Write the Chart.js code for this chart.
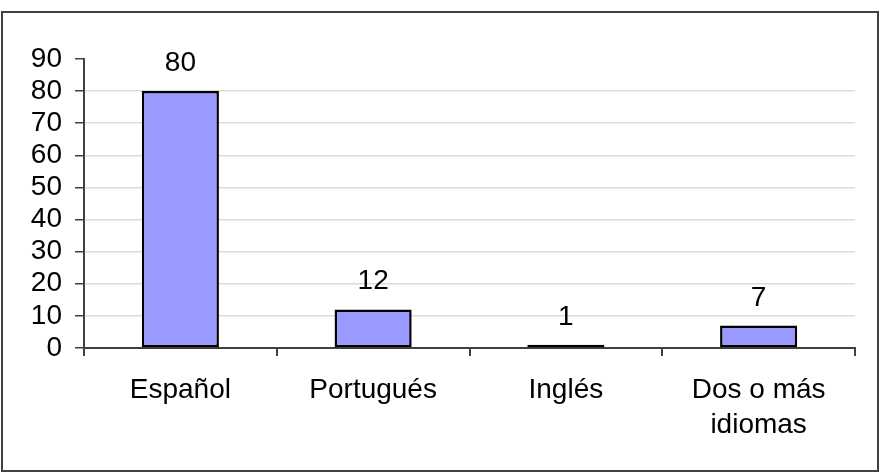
<!DOCTYPE html>
<html>
<head>
<meta charset="utf-8">
<script src="https://cdn.jsdelivr.net/npm/chart.js@4/dist/chart.umd.min.js"></script>
<style>
body{margin:0;background:#fff;}
canvas{display:block;}
</style>
</head>
<body>
<canvas id="idiomaChart" width="886" height="473"></canvas>
<script>
const categorias = ["Español","Portugués","Inglés",["Dos o más","idiomas"]];
const valores = [80,12,1,7];
const yTicks = [0,10,20,30,40,50,60,70,80,90];

const fuente = "'Liberation Sans', Arial, sans-serif";

// -----------------------------
// PLUGINS
// -----------------------------

const marco = {
id:"marco",
afterDraw(chart){
const c = chart.ctx;
c.save();
c.strokeStyle = "#404040";
c.lineWidth = 2;
c.strokeRect(2,12,876,459);
c.restore();
}
};

const etiquetas = {
id:"etiquetas",
afterDatasetsDraw(chart){
const c = chart.ctx;
const meta = chart.getDatasetMeta(0);
c.save();
c.font = "28px " + fuente;
c.fillStyle = "#000";
c.textAlign = "center";
c.textBaseline = "alphabetic";
meta.data.forEach((bar,i)=>{
c.fillText(String(valores[i]), bar.x, bar.y - 20);
});
c.restore();
}
};

// -----------------------------
// GRAPH
// -----------------------------

new Chart(document.getElementById("idiomaChart"),{
type:"bar",
data:{
labels:categorias,
datasets:[{
data:valores,
backgroundColor:"#9999FF",
borderColor:"#000",
borderWidth:2.5,
borderSkipped:false,
barPercentage:0.4,
categoryPercentage:1
}]
},
options:{
responsive:false,
animation:false,
layout:{padding:{left:0,top:59,right:31,bottom:0}},
plugins:{legend:{display:false},tooltip:{enabled:false}},
scales:{
x:{
grid:{drawOnChartArea:false,tickLength:8,tickColor:"#404040",offset:true,lineWidth:2},
border:{color:"#404040",width:2},
ticks:{color:"#000",font:{family:fuente,size:28,lineHeight:1.25},padding:17,maxRotation:0,autoSkip:false},
afterFit(scale){scale.height = 125;}
},
y:{
min:0,
max:90,
afterBuildTicks(scale){scale.ticks = yTicks.map(v=>({value:v}));},
grid:{
color:(ctx)=> (ctx.tick && ctx.tick.value === 90) ? "rgba(0,0,0,0)" : "#dcdcdc",
tickColor:"#404040",
tickLength:9,
lineWidth:1.5
},
border:{color:"#404040",width:2},
ticks:{color:"#000",font:{family:fuente,size:28},padding:13,autoSkip:false},
afterFit(scale){scale.width = 84;}
}
}
},
plugins:[marco,etiquetas]
});
</script>
</body>
</html>
